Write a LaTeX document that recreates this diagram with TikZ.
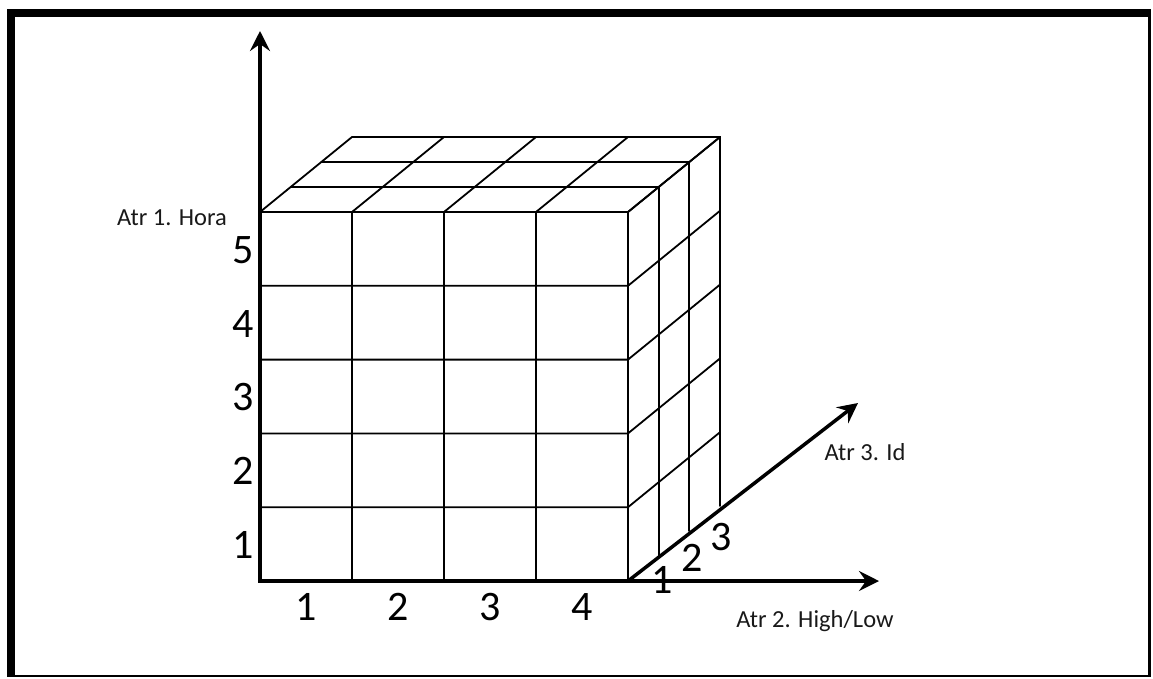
\documentclass[tikz,border=0pt]{standalone}
\usepackage{fontspec}
\setmainfont{Carlito}
\usepackage{tikz}
\usetikzlibrary{calc,positioning,arrows.meta}

\begin{document}
\begin{tikzpicture}[
        x=1pt, y=-1pt,
        axis/.style={line width=3.5pt,->,>={Stealth[length=20pt,width=20pt,inset=7pt]}},
        grid/.style={line width=1.8pt, line cap=round},
        frame/.style={fill=black},
        axislabel/.style={font=\fontsize{24.5}{26}\selectfont, text=black!90, inner sep=0pt},
        ticklabel/.style={font=\fontsize{42}{44}\selectfont, inner sep=0pt}
    ]
        \useasboundingbox (0,0) rectangle (1153,678);
        \fill[frame] (7,9) rectangle (1151,17);
        \fill[frame] (7,9) rectangle (15,677);
        \fill[frame] (1148,9) rectangle (1151,677);
        \fill[frame] (7,674.5) rectangle (1151,677);

        \coordinate (origin) at (260,581);
        \coordinate (corner) at (628,581);

        \foreach \i in {0,...,4} {
            \draw[grid] ($(origin)+(92*\i,0)$) -- ++(0,-369) -- ++(92,-75);
        }
        \foreach \j in {1,...,5} {
            \draw[grid] ($(origin)+(0,-73.8*\j)$) -- ++(368,0) -- ++(92,-75);
        }
        \foreach \k in {1,2,3} {
            \draw[grid] ($(origin)+(30.67*\k,-369-25*\k)$) -- ++(368,0) -- ++(0,369);
        }

        \coordinate (ytip) at (260,31);
        \coordinate (xtip) at (879,581);
        \coordinate (ztip) at (858,403);
        \draw[axis] ($(origin)+(0,1.75)$) -- (ytip);
        \draw[axis] ($(origin)+(-1.75,0)$) -- (xtip);
        \draw[axis] (corner) -- (ztip);

        \node[axislabel] (hora) at (172,218) {Atr 1. Hora};
        \node[axislabel] (highlow) at (815,621) {Atr 2. High/Low};
        \node[axislabel] (id) at (865,452) {Atr 3. Id};

        \foreach \j/\lbl in {1/1,2/2,3/3,4/4,5/5} {
            \node[ticklabel] (row\j) at (243,618.9-73.8*\j) {\lbl};
        }
        \foreach \i in {1,...,4} {
            \node[ticklabel] (col\i) at (214+92*\i,607) {\i};
        }
        \node[ticklabel] (dep1) at (662,580) {1};
        \node[ticklabel] (dep2) at (692,558) {2};
        \node[ticklabel] (dep3) at (721,537) {3};
    \end{tikzpicture}
\end{document}
